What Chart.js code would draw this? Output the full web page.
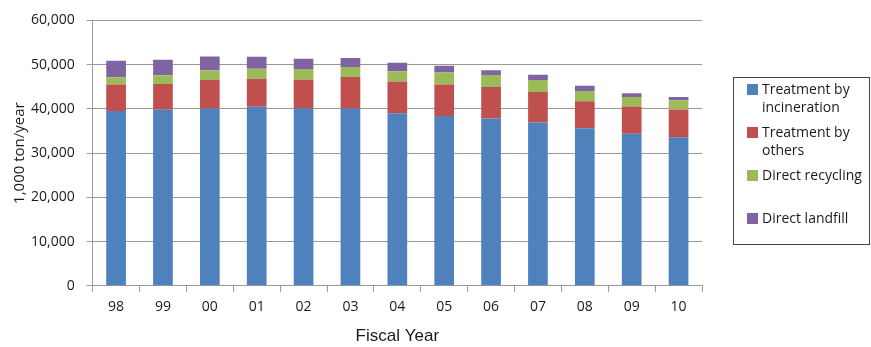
<!DOCTYPE html>
<html>
<head>
<meta charset="utf-8">
<script src="https://cdn.jsdelivr.net/npm/chart.js@4.4.1/dist/chart.umd.min.js"></script>
<style>
  body { margin: 0; background: #fff; }
  #wrap { position: relative; width: 871px; height: 347px; }
  #legend {
    position: absolute; left: 733px; top: 77px; width: 137px; height: 168px;
    border: 1px solid #444; box-sizing: border-box; padding: 2px 0 0 13px;
    font-family: 'Open Sans', sans-serif; font-size: 14px; color: #1a1a1a; line-height: 18px;
  }
  #legend .item { display: flex; align-items: flex-start; margin-bottom: 7px; }
  #legend .box { width: 11px; height: 11px; margin: 4px 4px 0 0; flex: none; }
  #legend .gap { height: 18px; }
</style>
</head>
<body>
<div id="wrap">
  <canvas id="myChart" width="871" height="347"></canvas>
  <div id="legend"></div>
</div>
<script>
const years = ['98', '99', '00', '01', '02', '03', '04', '05', '06', '07', '08', '09', '10']
const incineration = [39500, 39800, 40100, 40500, 40100, 40100, 39000, 38400, 37800, 36900, 35600, 34400, 33600]
const others = [6000, 5800, 6400, 6300, 6500, 7100, 7200, 7100, 7150, 6900, 6100, 6150, 6250]
const recycling = [1650, 2000, 2250, 2250, 2400, 2250, 2300, 2700, 2700, 2700, 2350, 2150, 2100]
const landfill = [3750, 3500, 3100, 2750, 2350, 2050, 1950, 1550, 1100, 1200, 1150, 850, 750]
const yTicks = [0, 10000, 20000, 30000, 40000, 50000, 60000]

window.onload = (() => {
  'use strict'

  const series = [
    { label: ['Treatment by', 'incineration'], data: incineration, color: '#4F81BD' },
    { label: ['Treatment by', 'others'], data: others, color: '#C0504D' },
    { label: ['Direct recycling'], data: recycling, color: '#9BBB59' },
    { label: ['Direct landfill'], data: landfill, color: '#8064A2' }
  ]

  const tickFont = { family: 'Open Sans', size: 14 }

  const ctx = document.getElementById('myChart')
  // eslint-disable-next-line no-unused-vars
  const myChart = new Chart(ctx, {
    type: 'bar',
    data: {
      labels: years,
      datasets: series.map(s => ({
        label: s.label.join(' '),
        data: s.data,
        backgroundColor: s.color,
        barPercentage: 0.84,
        categoryPercentage: 0.5
      }))
    },
    options: {
      responsive: false,
      animation: false,
      layout: { padding: { top: 15, right: 169, left: 11, bottom: 0 } },
      plugins: {
        legend: { display: false },
        tooltip: { enabled: false }
      },
      scales: {
        x: {
          stacked: true,
          grid: { drawOnChartArea: false, color: '#999', tickLength: 6 },
          border: { color: '#999' },
          ticks: { color: '#1a1a1a', font: tickFont, padding: 7 },
          title: { display: true, text: 'Fiscal Year', color: '#1a1a1a', font: { family: 'Liberation Sans', size: 17 }, padding: { top: 4, bottom: 0 } }
        },
        y: {
          stacked: true,
          min: yTicks[0],
          max: yTicks[yTicks.length - 1],
          afterBuildTicks: axis => { axis.ticks = yTicks.map(v => ({ value: v })) },
          grid: { color: '#999', tickLength: 6 },
          border: { color: '#999' },
          ticks: {
            color: '#1a1a1a',
            font: tickFont,
            padding: 12,
            callback: v => v.toLocaleString('en-US')
          },
          title: { display: true, text: '1,000 ton/year', color: '#1a1a1a', font: { family: 'Open Sans', size: 15 }, padding: { top: 0, bottom: -10 } }
        }
      }
    }
  })

  const legend = document.getElementById('legend')
  series.forEach((s, i) => {
    if (i === 3) {
      const gap = document.createElement('div')
      gap.className = 'gap'
      legend.appendChild(gap)
    }
    const item = document.createElement('div')
    item.className = 'item'
    item.innerHTML = '<span class="box" style="background:' + s.color + '"></span><span>' + s.label.join('<br>') + '</span>'
    legend.appendChild(item)
  })
})
</script>
</body>
</html>
